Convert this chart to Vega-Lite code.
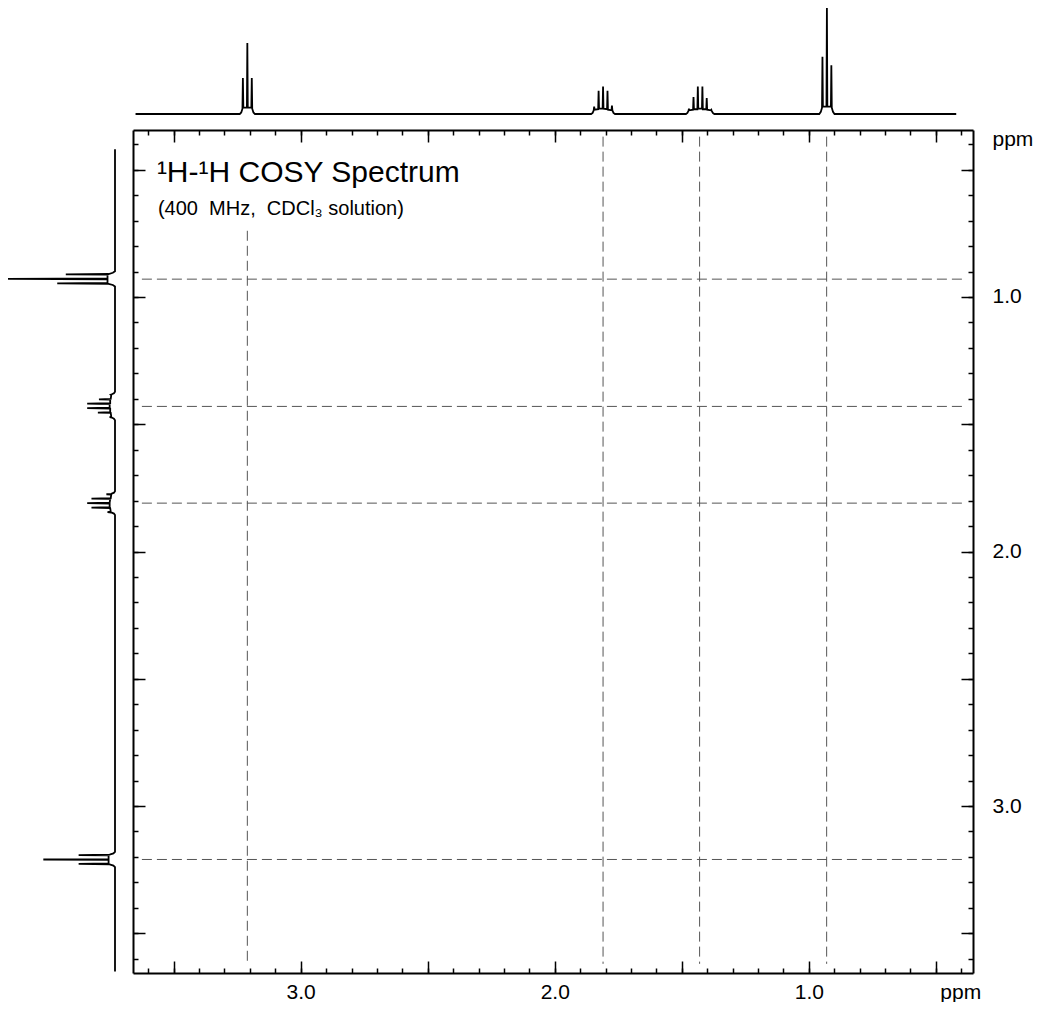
{
  "$schema": "https://vega.github.io/schema/vega-lite/v6.json",
  "padding": 0,
  "background": "white",
  "config": {
    "view": {"stroke": null},
    "font": "Liberation Sans",
    "axis": {"grid": false, "title": null, "domainColor": "black", "tickColor": "black", "labelColor": "black", "labelFont": "Liberation Sans", "labelFontSize": 21, "labelOverlap": false, "labelFlush": false, "tickWidth": 1.5, "domainWidth": 2}
  },
  "datasets": {
    "spectrum": [
      {"ppm": 3.65, "intensity": 0},
      {"ppm": 3.240, "intensity": 0},
      {"ppm": 3.234, "intensity": 0.015},
      {"ppm": 3.2292, "intensity": 0.05},
      {"ppm": 3.2275, "intensity": 0.34},
      {"ppm": 3.2258, "intensity": 0.06},
      {"ppm": 3.2117, "intensity": 0.06},
      {"ppm": 3.21, "intensity": 0.67},
      {"ppm": 3.2083, "intensity": 0.06},
      {"ppm": 3.1942, "intensity": 0.06},
      {"ppm": 3.1925, "intensity": 0.34},
      {"ppm": 3.1908, "intensity": 0.05},
      {"ppm": 3.186, "intensity": 0.015},
      {"ppm": 3.180, "intensity": 0},
      {"ppm": 1.857, "intensity": 0},
      {"ppm": 1.851, "intensity": 0.01},
      {"ppm": 1.8467, "intensity": 0.035},
      {"ppm": 1.845, "intensity": 0.07},
      {"ppm": 1.8433, "intensity": 0.04},
      {"ppm": 1.8292, "intensity": 0.045},
      {"ppm": 1.8275, "intensity": 0.22},
      {"ppm": 1.8258, "intensity": 0.05},
      {"ppm": 1.8117, "intensity": 0.05},
      {"ppm": 1.81, "intensity": 0.26},
      {"ppm": 1.8083, "intensity": 0.05},
      {"ppm": 1.7942, "intensity": 0.045},
      {"ppm": 1.7925, "intensity": 0.22},
      {"ppm": 1.7908, "intensity": 0.04},
      {"ppm": 1.7767, "intensity": 0.035},
      {"ppm": 1.775, "intensity": 0.08},
      {"ppm": 1.7733, "intensity": 0.035},
      {"ppm": 1.769, "intensity": 0.01},
      {"ppm": 1.763, "intensity": 0},
      {"ppm": 1.484, "intensity": 0},
      {"ppm": 1.478, "intensity": 0.01},
      {"ppm": 1.4737, "intensity": 0.03},
      {"ppm": 1.472, "intensity": 0.05},
      {"ppm": 1.4703, "intensity": 0.035},
      {"ppm": 1.4557, "intensity": 0.04},
      {"ppm": 1.454, "intensity": 0.16},
      {"ppm": 1.4523, "intensity": 0.045},
      {"ppm": 1.4387, "intensity": 0.045},
      {"ppm": 1.437, "intensity": 0.26},
      {"ppm": 1.4353, "intensity": 0.05},
      {"ppm": 1.4207, "intensity": 0.05},
      {"ppm": 1.419, "intensity": 0.26},
      {"ppm": 1.4173, "intensity": 0.045},
      {"ppm": 1.4037, "intensity": 0.045},
      {"ppm": 1.402, "intensity": 0.15},
      {"ppm": 1.4003, "intensity": 0.04},
      {"ppm": 1.3857, "intensity": 0.035},
      {"ppm": 1.384, "intensity": 0.04},
      {"ppm": 1.3823, "intensity": 0.03},
      {"ppm": 1.378, "intensity": 0.01},
      {"ppm": 1.372, "intensity": 0},
      {"ppm": 0.959, "intensity": 0},
      {"ppm": 0.953, "intensity": 0.02},
      {"ppm": 0.9482, "intensity": 0.06},
      {"ppm": 0.9465, "intensity": 0.54},
      {"ppm": 0.9448, "intensity": 0.07},
      {"ppm": 0.9307, "intensity": 0.07},
      {"ppm": 0.929, "intensity": 1.0},
      {"ppm": 0.9273, "intensity": 0.07},
      {"ppm": 0.9132, "intensity": 0.07},
      {"ppm": 0.9115, "intensity": 0.46},
      {"ppm": 0.9098, "intensity": 0.06},
      {"ppm": 0.905, "intensity": 0.02},
      {"ppm": 0.899, "intensity": 0},
      {"ppm": 0.42, "intensity": 0}
    ],
    "peaks": [
      {"ppm": 3.21},
      {"ppm": 1.81},
      {"ppm": 1.43},
      {"ppm": 0.93}
    ]
  },
  "columns": 2,
  "spacing": {"row": 16, "column": 18},
  "align": "each",
  "bounds": "flush",
  "resolve": {"scale": {"x": "independent", "y": "independent"}},
  "concat": [
    {
      "width": 115,
      "height": 114,
      "data": {"values": [{}]},
      "mark": {"type": "text"},
      "encoding": {"text": {"value": ""}}
    },
    {
      "width": 840,
      "height": 114,
      "data": {"name": "spectrum"},
      "mark": {"type": "line", "color": "black", "strokeWidth": 1.8, "clip": false},
      "encoding": {
        "x": {"field": "ppm", "type": "quantitative", "scale": {"domain": [0.354, 3.66], "reverse": true, "nice": false, "zero": false}, "axis": null},
        "y": {"field": "intensity", "type": "quantitative", "scale": {"domain": [0, 1.075], "nice": false, "zero": false}, "axis": null}
      }
    },
    {
      "width": 115,
      "height": 843,
      "data": {"name": "spectrum"},
      "mark": {"type": "line", "color": "black", "strokeWidth": 1.8, "clip": false},
      "encoding": {
        "y": {"field": "ppm", "type": "quantitative", "scale": {"domain": [0.344, 3.656], "reverse": true, "nice": false, "zero": false}, "axis": null},
        "x": {"field": "intensity", "type": "quantitative", "scale": {"domain": [0, 1.075], "reverse": true, "nice": false, "zero": false}, "axis": null},
        "order": {"field": "ppm", "type": "quantitative"}
      }
    },
    {
      "width": 840,
      "height": 843,
      "resolve": {"axis": {"x": "independent", "y": "independent"}},
      "layer": [
        {
          "data": {"name": "peaks"},
          "transform": [{"filter": "datum.ppm < 3"}],
          "mark": {"type": "rule", "color": "#555555", "strokeWidth": 1, "strokeDash": [10, 5]},
          "encoding": {
            "x": {"field": "ppm", "type": "quantitative", "scale": {"domain": [0.354, 3.66], "reverse": true, "nice": false, "zero": false},
                  "axis": {"orient": "bottom", "values": [0.4,0.5,0.6,0.7,0.8,0.9,1.0,1.1,1.2,1.3,1.4,1.5,1.6,1.7,1.8,1.9,2.0,2.1,2.2,2.3,2.4,2.5,2.6,2.7,2.8,2.9,3.0,3.1,3.2,3.3,3.4,3.5,3.6], "labels": false, "tickSize": -5, "domain": true}},
            "y": {"datum": 0.37, "type": "quantitative", "scale": {"domain": [0.344, 3.656], "reverse": true, "nice": false, "zero": false},
                  "axis": {"orient": "right", "values": [0.4,0.5,0.6,0.7,0.8,0.9,1.0,1.1,1.2,1.3,1.4,1.5,1.6,1.7,1.8,1.9,2.0,2.1,2.2,2.3,2.4,2.5,2.6,2.7,2.8,2.9,3.0,3.1,3.2,3.3,3.4,3.5,3.6], "labels": false, "tickSize": -5, "domain": true}},
            "y2": {"datum": 3.62}
          }
        },
        {
          "data": {"name": "peaks"},
          "transform": [{"filter": "datum.ppm > 3"}],
          "mark": {"type": "rule", "color": "#555555", "strokeWidth": 1, "strokeDash": [10, 5]},
          "encoding": {
            "x": {"field": "ppm", "type": "quantitative", "scale": {"domain": [0.354, 3.66], "reverse": true, "nice": false, "zero": false},
                  "axis": {"orient": "top", "values": [0.4,0.5,0.6,0.7,0.8,0.9,1.0,1.1,1.2,1.3,1.4,1.5,1.6,1.7,1.8,1.9,2.0,2.1,2.2,2.3,2.4,2.5,2.6,2.7,2.8,2.9,3.0,3.1,3.2,3.3,3.4,3.5,3.6], "labels": false, "tickSize": -5, "domain": true}},
            "y": {"datum": 0.74, "type": "quantitative", "scale": {"domain": [0.344, 3.656], "reverse": true, "nice": false, "zero": false},
                  "axis": {"orient": "left", "values": [0.4,0.5,0.6,0.7,0.8,0.9,1.0,1.1,1.2,1.3,1.4,1.5,1.6,1.7,1.8,1.9,2.0,2.1,2.2,2.3,2.4,2.5,2.6,2.7,2.8,2.9,3.0,3.1,3.2,3.3,3.4,3.5,3.6], "labels": false, "tickSize": -5, "domain": true}},
            "y2": {"datum": 3.62}
          }
        },
        {
          "data": {"name": "peaks"},
          "mark": {"type": "rule", "color": "#555555", "strokeWidth": 1, "strokeDash": [10, 5]},
          "encoding": {
            "y": {"field": "ppm", "type": "quantitative", "scale": {"domain": [0.344, 3.656], "reverse": true, "nice": false, "zero": false},
                  "axis": {"orient": "right", "values": [0.5,1.0,1.5,2.0,2.5,3.0,3.5], "labels": false, "tickSize": -12, "domain": false}},
            "x": {"datum": 3.625, "type": "quantitative", "scale": {"domain": [0.354, 3.66], "reverse": true, "nice": false, "zero": false},
                  "axis": {"orient": "bottom", "values": [0.5,1.0,1.5,2.0,2.5,3.0,3.5], "labels": false, "tickSize": -12, "domain": false}},
            "x2": {"datum": 0.39}
          }
        },
        {
          "data": {"values": [{}]},
          "mark": {"type": "text", "text": "¹H-¹H COSY Spectrum", "font": "Liberation Sans", "fontSize": 30, "align": "left", "baseline": "alphabetic", "color": "black"},
          "encoding": {
            "x": {"datum": 3.566, "type": "quantitative", "scale": {"domain": [0.354, 3.66], "reverse": true, "nice": false, "zero": false},
                  "axis": {"orient": "top", "values": [0.5,1.0,1.5,2.0,2.5,3.0,3.5], "labels": false, "tickSize": -12, "domain": false}},
            "y": {"datum": 0.548, "type": "quantitative", "scale": {"domain": [0.344, 3.656], "reverse": true, "nice": false, "zero": false},
                  "axis": {"orient": "left", "values": [0.5,1.0,1.5,2.0,2.5,3.0,3.5], "labels": false, "tickSize": -12, "domain": false}}
          }
        },
        {
          "data": {"values": [{}]},
          "mark": {"type": "text", "text": "(400\u00a0 MHz,\u00a0 CDCl₃ solution)", "font": "Liberation Sans", "fontSize": 20, "align": "left", "baseline": "alphabetic", "color": "black"},
          "encoding": {
            "x": {"datum": 3.562, "type": "quantitative", "scale": {"domain": [0.354, 3.66], "reverse": true, "nice": false, "zero": false},
                  "axis": {"orient": "bottom", "values": [1.0, 2.0, 3.0, 0.404], "ticks": false, "domain": false, "labelPadding": 8, "labelExpr": "datum.value < 0.5 ? 'ppm' : format(datum.value, '.1f')"}},
            "y": {"datum": 0.678, "type": "quantitative", "scale": {"domain": [0.344, 3.656], "reverse": true, "nice": false, "zero": false},
                  "axis": {"orient": "right", "values": [1.0, 2.0, 3.0, 0.38], "ticks": false, "domain": false, "labelPadding": 19, "labelAlign": "left", "labelBaseline": "middle", "labelExpr": "datum.value < 0.5 ? 'ppm' : format(datum.value, '.1f')"}}
          }
        }
      ]
    }
  ]
}
